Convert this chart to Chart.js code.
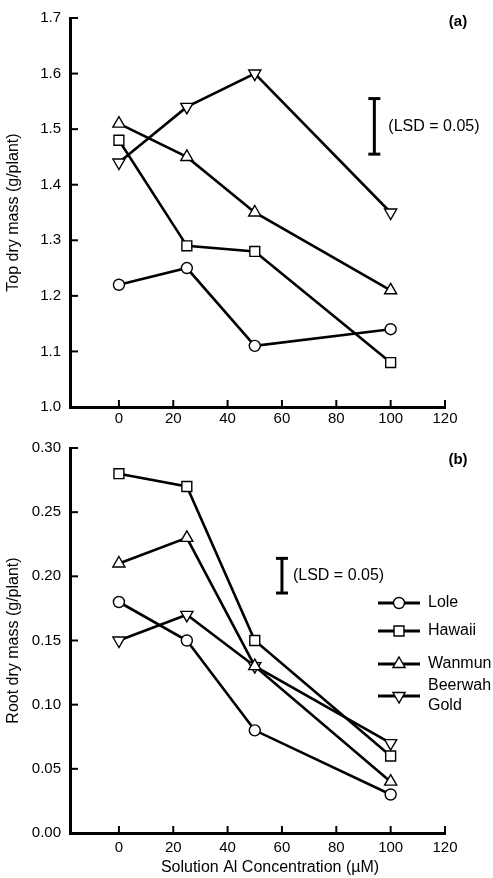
<!DOCTYPE html>
<html>
<head>
<meta charset="utf-8">
<script src="https://cdn.jsdelivr.net/npm/chart.js@4/dist/chart.umd.min.js"></script>
<style>
    html, body { margin: 0; padding: 0; background: #fff; }
    #wrap { position: relative; width: 493px; height: 878px; }
    .panel { position: absolute; left: 0; width: 493px; }
</style>
</head>
<body>
<div id="wrap">
    <div class="panel" style="top:0"><canvas id="chart-top" width="493" height="430"></canvas></div>
    <div class="panel" style="top:430px"><canvas id="chart-root" width="493" height="448"></canvas></div>
</div>
<script>
// data
const concentrations = [0, 25, 50, 100];
const cultivars = ['Lole', 'Hawaii', 'Wanmun', 'Beerwah Gold'];

const topLole    = [1.22, 1.25, 1.11, 1.14];
const topHawaii  = [1.48, 1.29, 1.28, 1.08];
const topWanmun  = [1.51, 1.45, 1.35, 1.21];
const topBeerwah = [1.44, 1.54, 1.60, 1.35];

const rootLole    = [0.18, 0.15, 0.08, 0.03];
const rootHawaii  = [0.28, 0.27, 0.15, 0.06];
const rootWanmun  = [0.21, 0.23, 0.13, 0.04];
const rootBeerwah = [0.15, 0.17, 0.13, 0.07];

// LSD bars: x position and low/high end
const topLsdX = 94;
const topLsd = [1.455, 1.555];
const rootLsdX = 60;
const rootLsd = [0.187, 0.214];
const lsdText = '(LSD = 0.05)';

const xTicks = [0, 20, 40, 60, 80, 100, 120];
const topYTicks = [1.0, 1.1, 1.2, 1.3, 1.4, 1.5, 1.6, 1.7];
const rootYTicks = [0.00, 0.05, 0.10, 0.15, 0.20, 0.25, 0.30];
const xTitle = 'Solution Al Concentration (\u00b5M)';

// marker looks per cultivar
const markerStyles = ['circle', 'rect', 'triangle', 'triangle'];
const markerRotation = [0, 0, 0, 180];
const markerRadius = [5.5, 7, 7, 7];

const FONT = '"Liberation Sans", Arial, Helvetica, sans-serif';
Chart.defaults.font.family = FONT;
Chart.defaults.color = '#000';

function seriesSets(seriesList) {
    return seriesList.map(function(values, i) {
        return {
            label: cultivars[i],
            data: concentrations.map(function(c, j) { return {x: c, y: values[j]}; }),
            borderColor: '#000',
            borderWidth: 2.6,
            backgroundColor: '#fff',
            pointStyle: markerStyles[i],
            rotation: markerRotation[i],
            pointRadius: markerRadius[i],
            pointHoverRadius: markerRadius[i],
            pointBackgroundColor: '#fff',
            pointBorderColor: '#000',
            pointBorderWidth: 1.4,
            tension: 0,
            clip: false
        };
    });
}

function lsdSet(x, ends) {
    return {
        label: 'LSD',
        isLsd: true,
        data: ends.map(function(v) { return {x: x, y: v}; }),
        borderColor: '#000',
        borderWidth: 3,
        pointStyle: 'line',
        pointRadius: 6,
        pointBorderColor: '#000',
        pointBorderWidth: 3,
        clip: false
    };
}

// ticks on these axes point into the plot
const inwardTicks = {
    id: 'inwardTicks',
    afterDraw: function(chart) {
        const ctx = chart.ctx;
        const xs = chart.scales.x, ys = chart.scales.y;
        const area = chart.chartArea;
        ctx.save();
        ctx.strokeStyle = '#000';
        ctx.lineWidth = 2;
        xs.ticks.forEach(function(t) {
            const px = xs.getPixelForValue(t.value);
            ctx.beginPath();
            ctx.moveTo(px, area.bottom);
            ctx.lineTo(px, area.bottom - 7);
            ctx.stroke();
        });
        ys.ticks.forEach(function(t) {
            const py = ys.getPixelForValue(t.value);
            ctx.beginPath();
            ctx.moveTo(area.left, py);
            ctx.lineTo(area.left + 8, py);
            ctx.stroke();
        });
        ctx.restore();
    }
};

const panelNotes = {
    id: 'panelNotes',
    afterDraw: function(chart, args, opts) {
        const ctx = chart.ctx;
        ctx.save();
        ctx.fillStyle = '#000';
        ctx.textBaseline = 'middle';

        // panel letter
        ctx.font = 'bold 15px ' + FONT;
        ctx.textAlign = 'center';
        ctx.fillText(opts.letter, 458, opts.letterY);

        // x axis title, sits a little right of centre in the original
        if (opts.xTitle) {
            ctx.font = '16px ' + FONT;
            ctx.fillText(opts.xTitle, 270, chart.height - 10);
        }

        // LSD label next to the bar
        chart.data.datasets.forEach(function(ds, i) {
            if (!ds.isLsd) return;
            const pts = chart.getDatasetMeta(i).data;
            ctx.font = '16px ' + FONT;
            ctx.textAlign = 'left';
            ctx.fillText(lsdText, pts[0].x + opts.lsdGap, (pts[0].y + pts[1].y) / 2);
        });

        // legend
        if (opts.legend) {
            const rows = [173, 201, 234, 266];
            const drawPoint = Chart.helpers && Chart.helpers.drawPoint;
            ctx.font = '16px ' + FONT;
            ctx.textAlign = 'left';
            chart.data.datasets.forEach(function(ds, i) {
                if (ds.isLsd) return;
                const y = rows[i];
                ctx.strokeStyle = '#000';
                ctx.lineWidth = 3;
                ctx.beginPath();
                ctx.moveTo(378, y);
                ctx.lineTo(420, y);
                ctx.stroke();
                ctx.fillStyle = '#fff';
                ctx.lineWidth = 1.4;
                if (drawPoint) {
                    drawPoint(ctx, {pointStyle: ds.pointStyle, rotation: ds.rotation, radius: ds.pointRadius, borderWidth: 1.4}, 399, y);
                }
                ctx.fillStyle = '#000';
                const words = ds.label.split(' ');
                const top = y - (words.length - 1) * 10;
                words.forEach(function(w, k) {
                    ctx.fillText(w, 428, top + k * 20);
                });
            });
        }
        ctx.restore();
    }
};

function makeChart(id, seriesList, lsdX, lsdEnds, yTicks, decimals, cfg) {
    const datasets = seriesSets(seriesList);
    datasets.push(lsdSet(lsdX, lsdEnds));
    return new Chart(document.getElementById(id).getContext('2d'), {
        type: 'line',
        data: {datasets: datasets},
        options: {
            responsive: false,
            animation: false,
            events: [],
            layout: {padding: {top: cfg.padTop, right: 48, left: 0, bottom: 0}},
            plugins: {
                legend: {display: false},
                tooltip: {enabled: false},
                panelNotes: {letter: cfg.letter, letterY: cfg.letterY, lsdGap: cfg.lsdGap, legend: cfg.legend, xTitle: cfg.xTitle}
            },
            scales: {
                x: {
                    type: 'linear',
                    min: -18,
                    max: 120,
                    afterBuildTicks: function(s) { s.ticks = xTicks.map(function(v) { return {value: v}; }); },
                    afterFit: function(s) { s.height = cfg.xHeight; },
                    grid: {display: false, drawTicks: false},
                    border: {display: true, color: '#000', width: 3},
                    ticks: {padding: cfg.xPad, color: '#000', font: {size: 15}, maxRotation: 0}
                },
                y: {
                    type: 'linear',
                    min: yTicks[0],
                    max: yTicks[yTicks.length - 1],
                    afterBuildTicks: function(s) { s.ticks = yTicks.map(function(v) { return {value: v}; }); },
                    afterFit: function(s) { s.width = 70; },
                    grid: {display: false, drawTicks: false},
                    border: {display: true, color: '#000', width: 3},
                    ticks: {padding: 9, color: '#000', font: {size: 15}, callback: function(v) { return Number(v).toFixed(decimals); }},
                    title: {display: true, text: cfg.yTitle, color: '#000', font: {size: 16}, padding: {top: 4, bottom: 0}}
                }
            }
        },
        plugins: [inwardTicks, panelNotes]
    });
}

makeChart('chart-top', [topLole, topHawaii, topWanmun, topBeerwah], topLsdX, topLsd, topYTicks, 1, {
    padTop: 12, xHeight: 23, xPad: 3, yTitle: 'Top dry mass (g/plant)',
    letter: '(a)', letterY: 22, lsdGap: 14, legend: false
});

makeChart('chart-root', [rootLole, rootHawaii, rootWanmun, rootBeerwah], rootLsdX, rootLsd, rootYTicks, 2, {
    padTop: 10, xHeight: 45, xPad: 6, yTitle: 'Root dry mass (g/plant)', xTitle: xTitle,
    letter: '(b)', letterY: 30, lsdGap: 11, legend: true
});
</script>
</body>
</html>
